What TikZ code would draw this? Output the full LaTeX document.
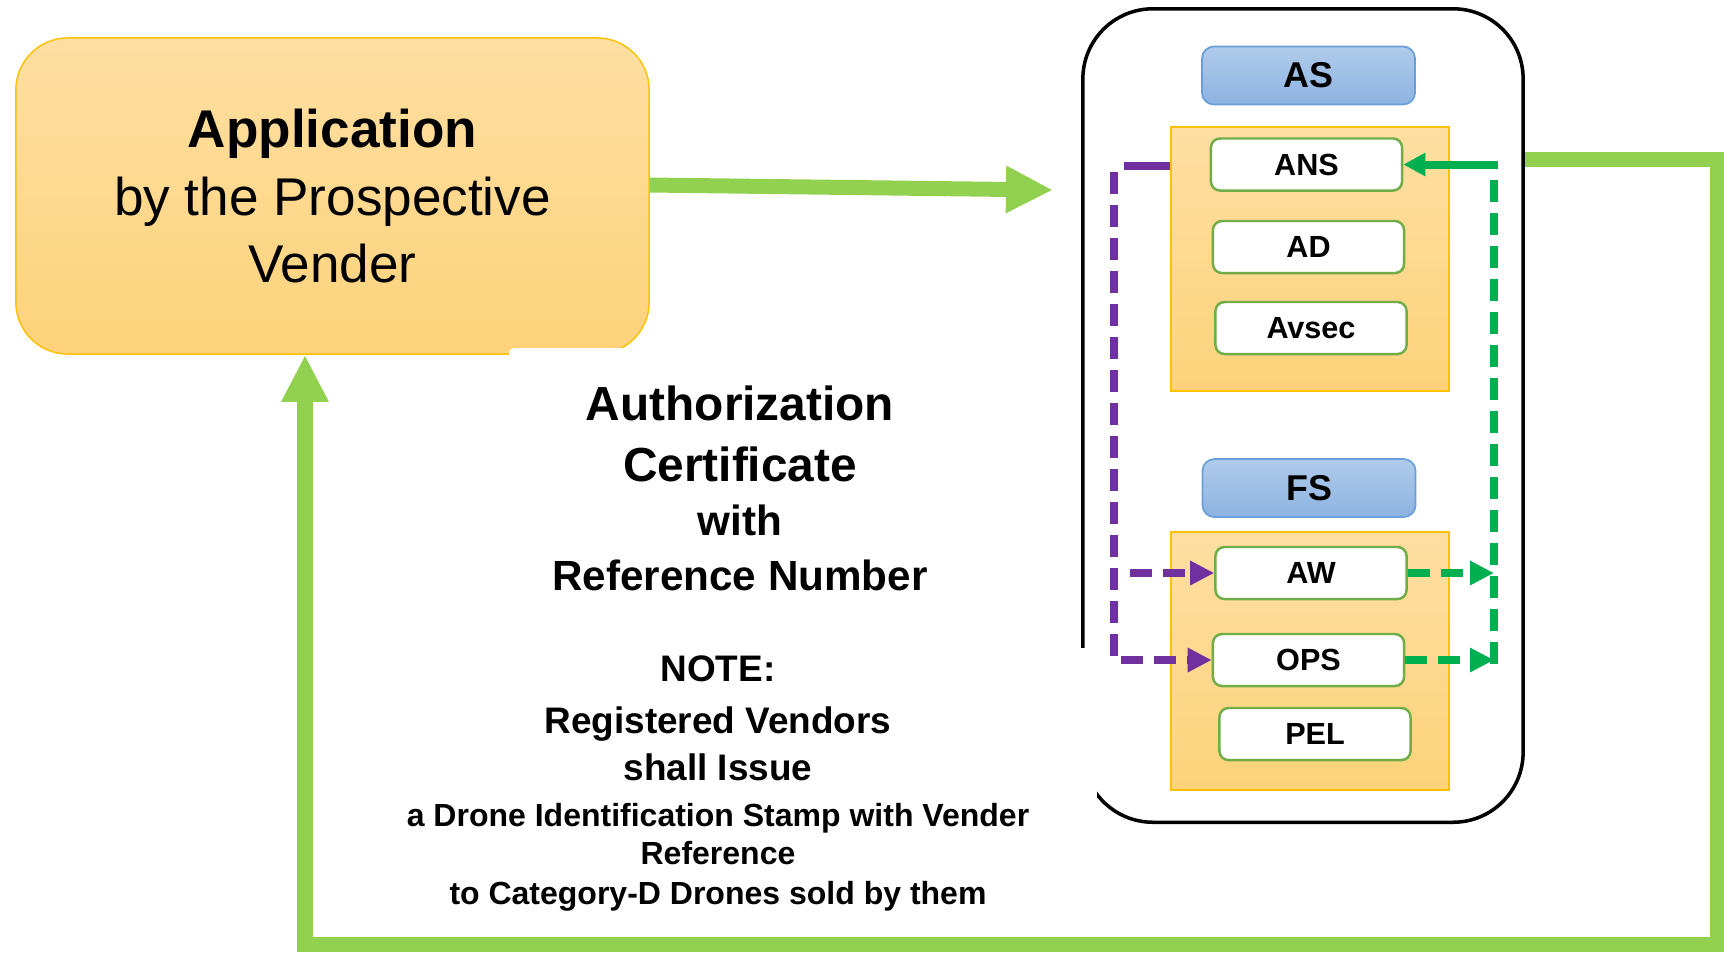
\documentclass[tikz,border=0pt]{standalone}
\usepackage{fontspec}
\setmainfont{Liberation Sans}
\usetikzlibrary{arrows.meta}

\definecolor{vendgold}{HTML}{FFC000}
\definecolor{vendtop}{HTML}{FEDFA2}
\definecolor{vendbot}{HTML}{FDD27A}
\definecolor{hdrtop}{HTML}{B0CBEA}
\definecolor{hdrbot}{HTML}{8DB3E2}
\definecolor{hdrline}{HTML}{6A9FD8}
\definecolor{flowgreen}{HTML}{92D050}
\definecolor{darkgreen}{HTML}{00B050}
\definecolor{flowpurple}{HTML}{7030A0}
\definecolor{boxgreen}{HTML}{70AD47}

\tikzset{
  appbox/.style={draw=vendgold, line width=0.4pt, top color=vendtop, bottom color=vendbot,
    rounded corners=0.52cm, minimum width=6.33cm, minimum height=3.16cm, align=center,
    font=\fontsize{15.1pt}{19.3pt}\selectfont},
  outerbox/.style={draw=black, line width=1pt, rounded corners=0.7cm,
    minimum width=4.4cm, minimum height=8.13cm},
  header/.style={draw=hdrline, line width=0.5pt, top color=hdrtop, bottom color=hdrbot,
    rounded corners=0.12cm, minimum width=2.13cm, minimum height=0.58cm,
    font=\bfseries\fontsize{10.2pt}{12pt}\selectfont},
  panel/.style={draw=vendgold, line width=0.4pt, top color=vendtop, bottom color=vendbot,
    minimum width=2.78cm},
  office/.style={draw=boxgreen, line width=0.7pt, fill=white, rounded corners=0.09cm,
    minimum width=1.91cm, minimum height=0.52cm, font=\bfseries\fontsize{8.7pt}{10pt}\selectfont},
  bigflow/.style={draw=flowgreen, line width=0.15cm, -{Triangle[length=0.47cm,width=0.44cm]}},
  purpleline/.style={draw=flowpurple, line width=0.08cm},
  purpleflow/.style={purpleline, dash pattern=on 0.22cm off 0.11cm,
    -{Triangle[length=0.24cm,width=0.23cm]}},
  greenline/.style={draw=darkgreen, line width=0.08cm},
  greenflow/.style={greenline, dash pattern=on 0.22cm off 0.11cm,
    -{Triangle[length=0.24cm,width=0.23cm]}},
  titleline/.style={anchor=base, font=\bfseries\fontsize{13.6pt}{16pt}\selectfont},
  withline/.style={anchor=base, font=\bfseries\fontsize{12pt}{14pt}\selectfont},
  noteline/.style={anchor=base, font=\bfseries\fontsize{10.5pt}{12pt}\selectfont},
  smallline/.style={anchor=base, font=\bfseries\fontsize{9.1pt}{11pt}\selectfont}
}

\begin{document}
\begin{tikzpicture}[x=0.01cm, y=-0.01cm]
  \useasboundingbox (0,0) rectangle (1724,953);

  % applicant
  \node[appbox] (app) at (332.5,196) {\textbf{Application}\\by the Prospective\\Vender};
  \fill[white, rounded corners=0.05cm] (509,348) rectangle (655,362);

  % regulator
  \node[outerbox] (dgca) at (1303,415.5) {};
  \fill[white] (1070,648) rectangle (1097,835);

  \node[header] (as) at (1308.5,75.5) {AS};
  \node[panel, minimum height=2.64cm] (aspanel) at (1310,259) {};
  \node[office] (ans) at (1306.5,164.5) {ANS};
  \node[office] (ad) at (1308.5,247) {AD};
  \node[office] (avsec) at (1311,328) {Avsec};

  \node[header] (fs) at (1309,488) {FS};
  \node[panel, minimum height=2.58cm] (fspanel) at (1310,661) {};
  \node[office] (aw) at (1311,573) {AW};
  \node[office] (ops) at (1308.5,660) {OPS};
  \node[office] (pel) at (1315,734) {PEL};

  % text
  \node[titleline] (auth) at (740,420) {Authorization};
  \node[titleline] (cert) at (740,481) {Certificate};
  \node[withline] (with) at (740,535) {with};
  \node[withline] (refno) at (740,590) {Reference Number};
  \node[noteline] (note) at (718,681) {NOTE:};
  \node[noteline] (regv) at (718,733) {Registered Vendors};
  \node[noteline] (issue) at (718,780) {shall Issue};
  \node[smallline] (stamp) at (718,826) {a Drone Identification Stamp with Vender};
  \node[smallline] (vref) at (718,864) {Reference};
  \node[smallline] (catd) at (718,904) {to Category-D Drones sold by them};

  % flows
  \coordinate (intip) at (1053,190);
  \coordinate (pturn) at (1114,166);
  \coordinate (gturn) at (1494,164.5);
  \coordinate (rtop) at (1717,159.5);
  \coordinate (rbot) at (1717,944);
  \coordinate (lbot) at (305,944);

  \draw[bigflow] ([yshift=0.11cm]app.east) -- (intip);
  \draw[purpleline] (aspanel.west |- pturn) -- ([xshift=0.1cm]pturn);
  \draw[purpleflow] ([yshift=-0.06cm]pturn) |- (ops.west);
  \draw[purpleflow] ([xshift=0.16cm]pturn |- aw.west) -- (aw.west);
  \draw[greenflow] (aw.east) -- (aw.east -| gturn);
  \draw[greenflow] (ops.east) -- (ops.east -| gturn);
  \draw[greenline, dash pattern=on 0.22cm off 0.11cm]
    ([yshift=-0.04cm]ops.east -| gturn) -- (gturn);
  \draw[greenline, -{Triangle[length=0.22cm,width=0.22cm]}]
    ([xshift=0.04cm]gturn) -- (ans.east);
  \draw[bigflow] (dgca.east |- rtop) -- (rtop) -- (rbot) -- (lbot) -- (lbot |- app.south);
\end{tikzpicture}
\end{document}
